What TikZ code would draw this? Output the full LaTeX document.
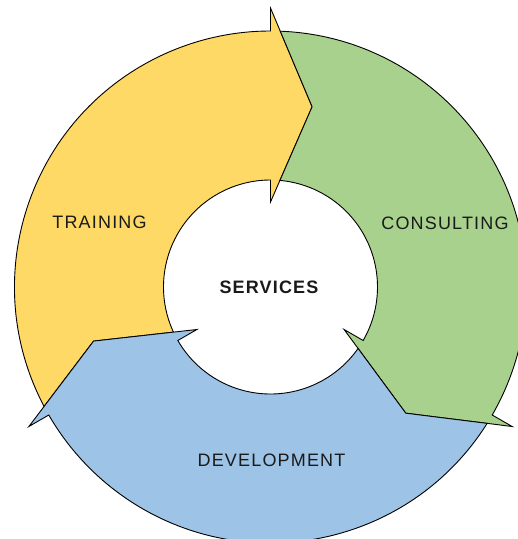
\documentclass[tikz,border=0pt]{standalone}
\usepackage{fontspec}
\setmainfont{Liberation Sans}[LetterSpace=6.5]
\definecolor{cyellow}{HTML}{FFD966}
\definecolor{cgreen}{HTML}{A9D18E}
\definecolor{cblue}{HTML}{9DC3E6}
\definecolor{ctext}{HTML}{1A1A1A}
\newcommand{\cyclearrow}[2]{%
  \filldraw[arrowshape, fill=#2]
    (#1+117.81:256) arc[start angle=#1+117.81, end angle=#1, radius=256]
    -- (#1:279) -- (#1-13:185) -- (#1:85) -- (#1:107)
    arc[start angle=#1, end angle=#1+114.94, radius=107]
    -- (#1+107:185) -- cycle;}
\begin{document}
\begin{tikzpicture}[x=1pt, y=1pt,
  arrowshape/.style={draw=black, line width=0.9pt, line join=miter},
  label/.style={inner sep=0pt, text=ctext, font=\fontsize{18}{20}\selectfont}]
\useasboundingbox (-270.5,-252) rectangle (247.5,287);
\clip (-270.5,-252) rectangle (247.5,287);
\cyclearrow{90}{cyellow}
\cyclearrow{-30}{cgreen}
\cyclearrow{210}{cblue}
\node[label] (training) at (-171,64.3) {TRAINING};
\node[label] (consulting) at (174.5,64) {CONSULTING};
\node[label] (development) at (1,-173) {DEVELOPMENT};
\node[label, font=\fontsize{18}{20}\selectfont\bfseries] (services) at (-1.5,-0.5) {SERVICES};
\end{tikzpicture}
\end{document}
